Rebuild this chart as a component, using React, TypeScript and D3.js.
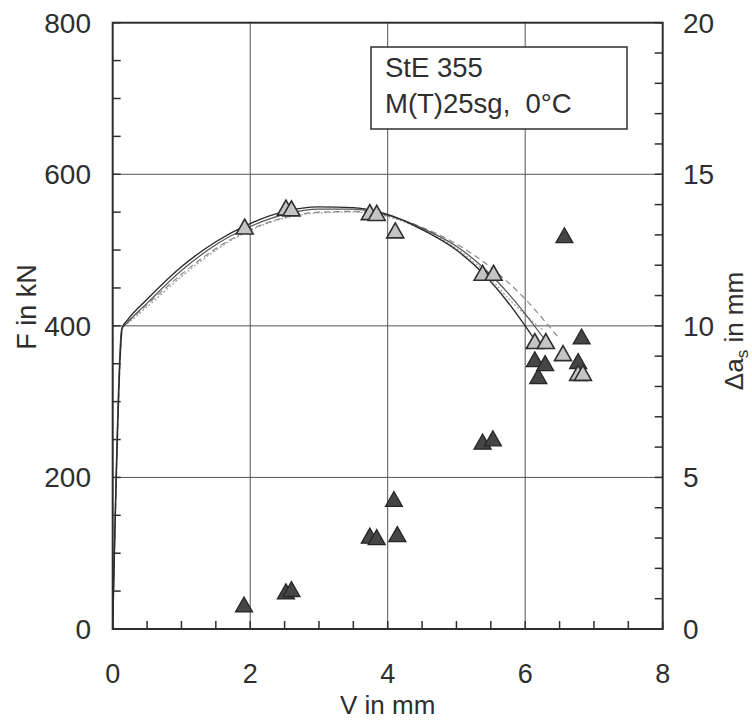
import React from "react";
import * as d3 from "d3";

// ---- data ----
const xTicks = [0, 2, 4, 6, 8];
const yLeftTicks = [0, 200, 400, 600, 800];
const yRightTicks = [0, 5, 10, 15, 20];

// F–V curves (several specimens / simulations)
const curve1V = [0, 0.14, 0.2, 0.5, 1, 1.5, 2, 2.5, 3, 3.5, 4, 4.5, 5, 5.4, 5.8, 6.15];
const curve1F = [0, 398, 406, 435, 478, 511, 535, 551, 557, 556, 547, 527, 500, 468, 425, 380];
const curve2V = [0, 0.13, 0.2, 0.5, 1, 1.5, 2, 2.5, 3, 3.5, 4, 4.5, 5, 5.4, 5.8, 6.3];
const curve2F = [0, 396, 403, 430, 473, 507, 531, 547, 554, 554, 546, 529, 505, 476, 438, 380];
const curve3V = [0, 0.15, 0.2, 0.5, 1, 1.5, 2, 2.5, 3, 3.5, 4, 4.5, 5, 5.5, 5.95, 6.48];
const curve3F = [0, 400, 404, 428, 468, 502, 527, 543, 550, 551, 545, 530, 508, 477, 440, 385];
const curve4V = [0, 0.14, 0.2, 0.5, 1, 1.5, 2, 2.5, 3, 3.5, 4, 4.5, 5, 5.4, 5.8, 6.25];
const curve4F = [0, 398, 402, 425, 465, 500, 526, 542, 549, 550, 544, 527, 502, 472, 432, 395];

// measured F points (light triangles, left axis)
const lightV = [1.92, 2.52, 2.6, 3.74, 3.84, 4.11, 5.38, 5.54, 6.14, 6.3, 6.55, 6.77, 6.84];
const lightF = [531, 556, 555, 550, 549, 526, 470, 470, 380, 380, 364, 338, 338];

// crack extension Δa_s (dark triangles, right axis)
const darkV = [1.91, 2.52, 2.6, 3.74, 3.84, 4.09, 4.14, 5.38, 5.53, 6.14, 6.19, 6.29, 6.57, 6.77, 6.82];
const darkDa = [0.81, 1.24, 1.32, 3.08, 3.03, 4.29, 3.13, 6.18, 6.29, 8.9, 8.34, 8.77, 12.99, 8.84, 9.65];

const legendLines = ["StE 355", "M(T)25sg,\u00A0 0°C"];

// ---- layout ----
const W = 752;
const H = 721;
const L = 112.7, R = 662.7, T = 22.7, B = 629;
const FONT = "'Liberation Sans', Arial, Helvetica, sans-serif";
const INK = "#2e2e2e";

const x = d3.scaleLinear().domain([0, 8]).range([L, R]);
const yL = d3.scaleLinear().domain([0, 800]).range([B, T]);
const yR = d3.scaleLinear().domain([0, 20]).range([B, T]);

const tri = (cx: number, cy: number, w = 17, h = 15) =>
  `M${cx - w / 2},${cy + h / 2}L${cx},${cy - h / 2}L${cx + w / 2},${cy + h / 2}Z`;

const zip = (a: number[], b: number[]) => a.map((v, i) => [v, b[i]] as [number, number]);

export default function App() {
  const line = d3
    .line<[number, number]>()
    .x((d) => x(d[0]))
    .y((d) => yL(d[1]))
    .curve(d3.curveMonotoneX);

  const curves = [
    { d: zip(curve4V, curve4F), stroke: "#9a9a9a", dash: "2,2", w: 1.2 },
    { d: zip(curve3V, curve3F), stroke: "#8a8a8a", dash: "6,4", w: 1.2 },
    { d: zip(curve2V, curve2F), stroke: "#555", dash: undefined, w: 1.2 },
    { d: zip(curve1V, curve1F), stroke: "#2a2a2a", dash: undefined, w: 1.4 },
  ];

  const xMinor = d3.range(0, 8.001, 0.5);
  const yLMinor = d3.range(0, 800.1, 50);
  const yRMinor = d3.range(0, 20.01, 1);

  return (
    <svg
      width={W}
      height={H}
      viewBox={`0 0 ${W} ${H}`}
      style={{ position: "absolute", left: 0, top: 0, background: "#fff" }}
      fontFamily={FONT}
    >
      <rect x={0} y={0} width={W} height={H} fill="#fff" />
      {/* grid */}
      {[2, 4, 6].map((v) => (
        <line key={"gx" + v} x1={x(v)} x2={x(v)} y1={T} y2={B} stroke="#555" strokeWidth={1} />
      ))}
      {[200, 400, 600].map((v) => (
        <line key={"gy" + v} x1={L} x2={R} y1={yL(v)} y2={yL(v)} stroke="#555" strokeWidth={1} />
      ))}
      {/* minor ticks */}
      {xMinor.map((v) => (
        <line key={"tx" + v} x1={x(v)} x2={x(v)} y1={B} y2={B - 8} stroke={INK} strokeWidth={1.5} />
      ))}
      {yLMinor.map((v) => (
        <line key={"tl" + v} x1={L} x2={L + 8} y1={yL(v)} y2={yL(v)} stroke={INK} strokeWidth={1.5} />
      ))}
      {yRMinor.map((v) => (
        <line key={"tr" + v} x1={R} x2={R - 8} y1={yR(v)} y2={yR(v)} stroke={INK} strokeWidth={1.5} />
      ))}
      {/* curves */}
      {curves.map((c, i) => (
        <path
          key={"c" + i}
          d={line(c.d) || ""}
          fill="none"
          stroke={c.stroke}
          strokeWidth={c.w}
          strokeDasharray={c.dash}
        />
      ))}
      {/* dark triangles (Δa_s) */}
      {darkV.map((v, i) => (
        <path key={"d" + i} d={tri(x(v), yR(darkDa[i]))} fill="#454545" stroke="#262626" strokeWidth={1.3} />
      ))}
      {/* light triangles (F) */}
      {lightV.map((v, i) => (
        <path key={"l" + i} d={tri(x(v), yL(lightF[i]))} fill="#c4c4c4" stroke="#2e2e2e" strokeWidth={1.6} />
      ))}
      {/* frame */}
      <rect x={L} y={T} width={R - L} height={B - T} fill="none" stroke={INK} strokeWidth={2} />
      {/* legend */}
      <rect x={371} y={47} width={256} height={82} fill="#fff" stroke={INK} strokeWidth={1.5} />
      {legendLines.map((t, i) => (
        <text key={"lg" + i} x={385} y={77 + i * 36} fontSize={27.5} fill={INK}>
          {t}
        </text>
      ))}
      {/* tick labels */}
      {xTicks.map((v) => (
        <text key={"xl" + v} x={x(v)} y={683} fontSize={27} textAnchor="middle" fill={INK}>
          {v}
        </text>
      ))}
      {yLeftTicks.map((v) => (
        <text key={"yl" + v} x={91} y={yL(v) + 10} fontSize={28} textAnchor="end" fill={INK}>
          {v}
        </text>
      ))}
      {yRightTicks.map((v) => (
        <text key={"yr" + v} x={683} y={yR(v) + 10} fontSize={28} textAnchor="start" fill={INK}>
          {v}
        </text>
      ))}
      {/* axis titles */}
      <text x={(L + R) / 2} y={714} fontSize={26} textAnchor="middle" fill={INK}>
        V in mm
      </text>
      <text
        transform={`translate(36,${307}) rotate(-90)`}
        fontSize={27}
        textAnchor="middle"
        fill={INK}
      >
        F in kN
      </text>
      <text
        transform={`translate(743,${331}) rotate(-90)`}
        fontSize={26}
        textAnchor="middle"
        fill={INK}
      >
        Δa
        <tspan fontSize={17} dy={5}>s</tspan>
        <tspan dy={-5}> in mm</tspan>
      </text>
    </svg>
  );
}
